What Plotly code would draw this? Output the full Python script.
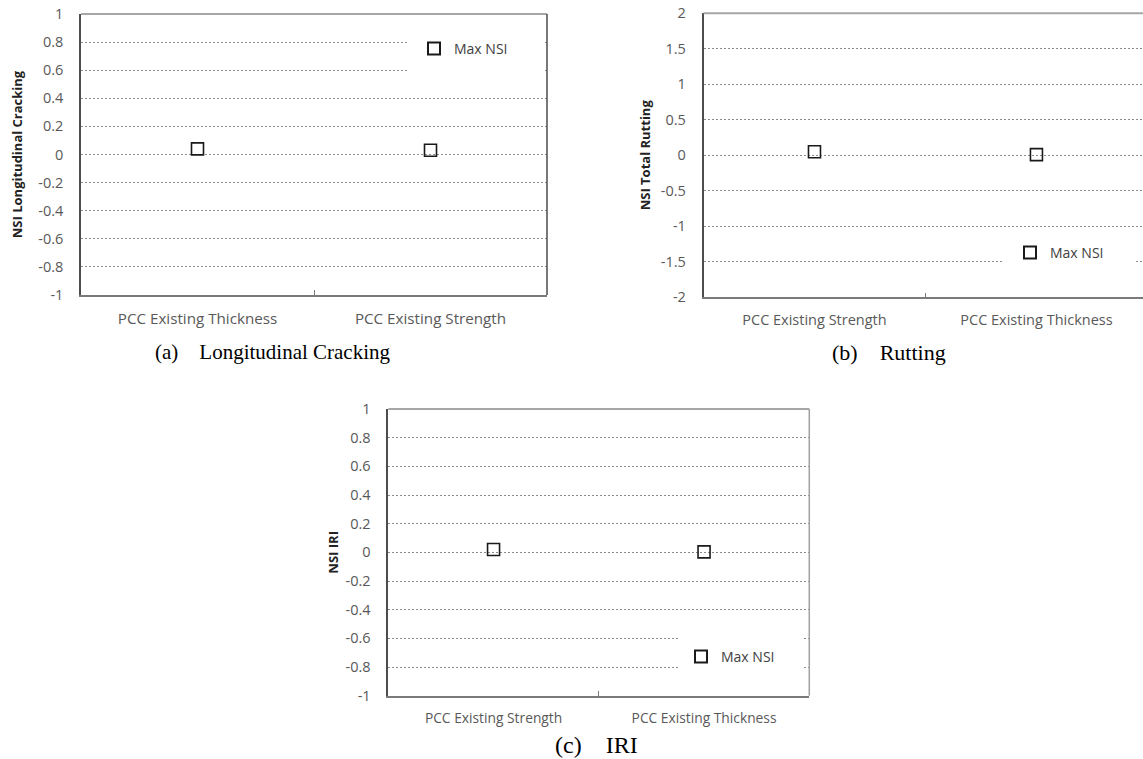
import plotly.graph_objects as go

# ---------------- data ----------------
cats_a = ["PCC Existing Thickness", "PCC Existing Strength"]
nsi_a = [0.04, 0.03]

cats_b = ["PCC Existing Strength", "PCC Existing Thickness"]
nsi_b = [0.05, 0.01]

cats_c = ["PCC Existing Strength", "PCC Existing Thickness"]
nsi_c = [0.02, 0.003]

yticks_ac = [-1, -0.8, -0.6, -0.4, -0.2, 0, 0.2, 0.4, 0.6, 0.8, 1]
ylabels_ac = ["-1", "-0.8", "-0.6", "-0.4", "-0.2", "0", "0.2", "0.4", "0.6", "0.8", "1"]
yticks_b = [-2, -1.5, -1, -0.5, 0, 0.5, 1, 1.5, 2]
ylabels_b = ["-2", "-1.5", "-1", "-0.5", "0", "0.5", "1", "1.5", "2"]

series_name = "Max NSI"
NB = "\u00a0"
captions = ["(a)" + NB * 4 + "Longitudinal Cracking", "(b)" + NB * 4 + "Rutting", "(c)" + NB * 4 + "IRI"]
ytitles = ["NSI Longitudinal Cracking", "NSI Total Rutting", "NSI IRI"]

# ---------------- figure ----------------
W, H = 1143, 759
FONT = "Open Sans"
TXT = "#595959"
GRID = "#8c8c8c"


def px(x):
    return x / W


def py(y):
    return 1 - y / H


fig = go.Figure()

marker = dict(symbol="square-open", size=12, color="#1a1a1a", line=dict(width=1.6, color="#1a1a1a"))

fig.add_trace(go.Scatter(x=cats_a, y=nsi_a, mode="markers", name=series_name, marker=marker,
                         xaxis="x", yaxis="y", legend="legend"))
fig.add_trace(go.Scatter(x=cats_b, y=nsi_b, mode="markers", name=series_name, marker=marker,
                         xaxis="x2", yaxis="y2", legend="legend2"))
fig.add_trace(go.Scatter(x=cats_c, y=nsi_c, mode="markers", name=series_name, marker=marker,
                         xaxis="x3", yaxis="y3", legend="legend3"))


def xaxis(domain, rng, anchor, fs):
    return dict(domain=domain, anchor=anchor, type="category", range=rng, automargin=False,
                showline=True, linecolor="#7a7a7a", linewidth=1.5,
                ticks="inside", tickson="boundaries", ticklen=5, tickcolor="#7a7a7a",
                showgrid=False, zeroline=False,
                tickfont=dict(family=FONT, size=fs, color=TXT), ticklabelstandoff=9)


def yaxis(domain, rng, tv, tt, title, anchor, standoff):
    return dict(domain=domain, anchor=anchor, range=rng, tickvals=tv, ticktext=tt, automargin=False,
                showline=True, linecolor="#4d4d4d", linewidth=1.5,
                showgrid=True, gridcolor=GRID, griddash="2px,2px", gridwidth=1,
                zeroline=False, ticks="",
                tickfont=dict(family=FONT, size=14.5, color=TXT), ticklabelstandoff=13,
                title=dict(text="<b>" + title + "</b>", font=dict(family=FONT, size=13, color="#222222"),
                           standoff=standoff))


dom_a_x = [px(81), px(547)]
dom_a_y = [py(295), py(14)]
dom_b_x = [px(703.5), 1.0]
dom_b_y = [py(297.3), py(13.3)]
dom_c_x = [px(388.3), px(809.3)]
dom_c_y = [py(695.7), py(409)]

legend_style = dict(bgcolor="rgba(0,0,0,0)", borderwidth=0, font=dict(family=FONT, size=14, color="#404040"),
                    itemsizing="constant", xanchor="left", yanchor="middle", orientation="v")

fig.update_layout(
    width=W, height=H,
    margin=dict(l=0, r=0, t=0, b=0, autoexpand=False),
    paper_bgcolor="white", plot_bgcolor="white",
    showlegend=True,
    xaxis=xaxis(dom_a_x, [-0.5, 1.5], "y", 15.2),
    yaxis=yaxis(dom_a_y, [-1, 1], yticks_ac, ylabels_ac, ytitles[0], "x", 13),
    xaxis2=xaxis(dom_b_x, [-0.5, 1.48], "y2", 14.5),
    yaxis2=yaxis(dom_b_y, [-2, 2], yticks_b, ylabels_b, ytitles[1], "x2", 7),
    xaxis3=xaxis(dom_c_x, [-0.5, 1.5], "y3", 13.8),
    yaxis3=yaxis(dom_c_y, [-1, 1], yticks_ac, ylabels_ac, ytitles[2], "x3", 4),
    legend=dict(legend_style, x=px(414), y=py(49)),
    legend2=dict(legend_style, x=px(1010), y=py(253)),
    legend3=dict(legend_style, x=px(681), y=py(657)),
)

# white legend backgrounds (cover the gridlines behind the legend)
for x0, x1, y0, y1 in [(407, 545, 28, 84), (1003, 1135, 238, 280), (678, 802, 624, 688)]:
    fig.add_shape(type="rect", xref="paper", yref="paper", x0=px(x0), x1=px(x1), y0=py(y1), y1=py(y0),
                  fillcolor="white", line=dict(width=0), layer="above")

# border lines of the plot frames (top, and right where drawn)
for xr, yr, right_col in [("x", "y", "#4d4d4d"), ("x2", "y2", None), ("x3", "y3", "#a0a0a0")]:
    fig.add_shape(type="line", xref=xr + " domain", yref=yr + " domain", x0=0, x1=1, y0=1, y1=1,
                  line=dict(color="#a6a6a6", width=2))
    if right_col:
        fig.add_shape(type="line", xref=xr + " domain", yref=yr + " domain", x0=1, x1=1, y0=0, y1=1,
                      line=dict(color=right_col, width=1.5))

fig.add_annotation(text=captions[0], x=px(153), y=py(352), xref="paper", yref="paper",
                   xanchor="left", yanchor="middle", showarrow=False,
                   font=dict(family="Liberation Serif", size=21, color="black"))
fig.add_annotation(text=captions[1], x=px(830), y=py(352), xref="paper", yref="paper",
                   xanchor="left", yanchor="middle", showarrow=False,
                   font=dict(family="Liberation Serif", size=22, color="black"))
fig.add_annotation(text=captions[2], x=px(553), y=py(745), xref="paper", yref="paper",
                   xanchor="left", yanchor="middle", showarrow=False,
                   font=dict(family="Liberation Serif", size=24, color="black"))

fig.write_html("out.html", config={"displayModeBar": False},
               post_script="document.body.style.margin='0';")
